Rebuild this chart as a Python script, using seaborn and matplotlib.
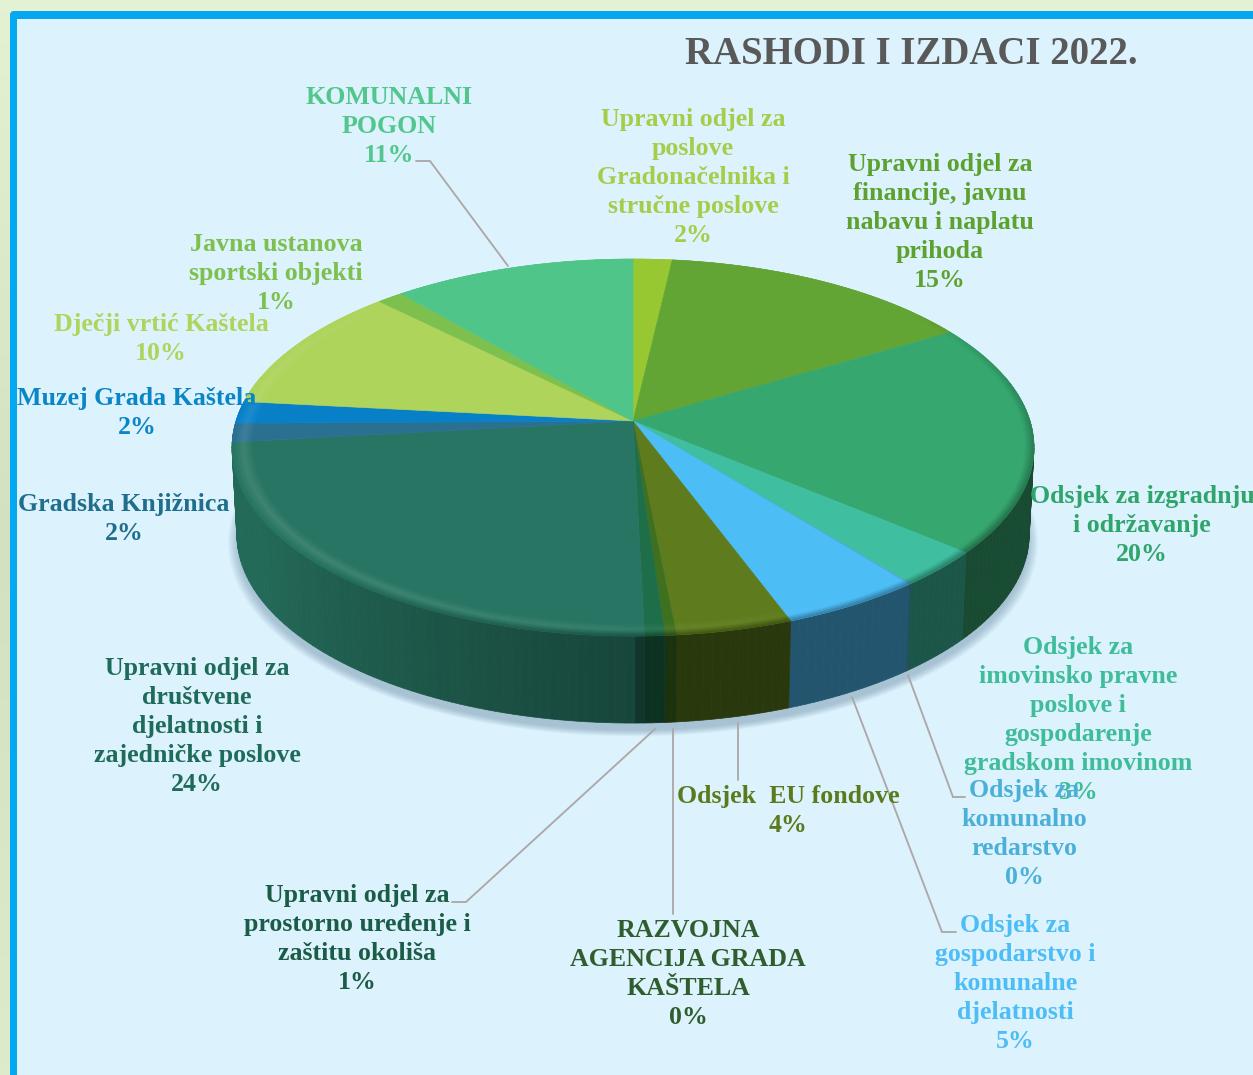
import numpy as np
import seaborn as sns
import matplotlib.pyplot as plt
from matplotlib.collections import PolyCollection
from matplotlib.patches import FancyBboxPatch, Polygon, Rectangle

# Data (clockwise from the top)
names = [
    "Upravni odjel za\nposlove\nGradonačelnika i\nstručne poslove",
    "Upravni odjel za\nfinancije, javnu\nnabavu i naplatu\nprihoda",
    "Odsjek za izgradnju\ni održavanje",
    "Odsjek za\nimovinsko pravne\nposlove i\ngospodarenje\ngradskom imovinom",
    "Odsjek za\nkomunalno\nredarstvo",
    "Odsjek za\ngospodarstvo i\nkomunalne\ndjelatnosti",
    "Odsjek  EU fondove",
    "RAZVOJNA\nAGENCIJA GRADA\nKAŠTELA",
    "Upravni odjel za\nprostorno uređenje i\nzaštitu okoliša",
    "Upravni odjel za\ndruštvene\ndjelatnosti i\nzajedničke poslove",
    "Gradska Knjižnica",
    "Muzej Grada Kaštela",
    "Dječji vrtić Kaštela",
    "Javna ustanova\nsportski objekti",
    "KOMUNALNI\nPOGON",
]
values = [1.8, 14.6, 19.8, 3.1, 0.1, 5.0, 4.1, 0.4, 0.7, 23.6, 1.6, 1.9, 10.9, 1.2, 11.2]
percent_labels = [2, 15, 20, 3, 0, 5, 4, 0, 1, 24, 2, 2, 10, 1, 11]

slice_colors = ["#97c832", "#63a534", "#36a76f", "#3fbfa0", "#4ab0d6", "#4dbdf6", "#5e7c1d", "#3f7020",
                "#1f6e4a", "#277562", "#2a7090", "#0880c8", "#aed45c", "#7dc04d", "#50c58a"]
label_colors = ["#a5cd4a", "#5da22f", "#2fa56c", "#3fbd9a", "#4bb0d8", "#4dbdf6", "#5a7a1c", "#2f5d2e",
                "#1b5c46", "#1f6b5a", "#1f6f8c", "#0a86c6", "#aed45c", "#7dc04d", "#52c78d"]

# label centre x / first baseline y, in pixels
label_x = [693, 940, 1142, 1078, 1024, 1015, 788, 688, 357, 197, 124, 137, 161, 276, 389]
label_y = [126, 171, 503, 654, 797, 932, 803, 937, 902, 675, 511, 405, 331, 251, 104]

# leader lines
leaders = [
    ([416, 430, 508], [161, 161, 266]),
    ([908, 953, 965], [675, 797, 797]),
    ([852, 942, 956], [697, 932, 932]),
    ([738, 738], [723, 780]),
    ([673, 673], [729, 914]),
    ([655, 466, 452], [729, 902, 902]),
]

sns.set_theme(style="white")
plt.rcParams["font.family"] = ["Liberation Serif", "DejaVu Serif"]
palette = sns.color_palette(slice_colors)

W, H = 1253, 1075
fig, ax = plt.subplots(figsize=(W / 100, H / 100), dpi=100)
ax.set_position([0, 0, 1, 1])

# pie gives the angles, the squashed 3D look is done with a projection
wedges, _ = ax.pie(values, colors=palette, startangle=90, counterclock=False)
ax.set_aspect("auto")
ax.set_xlim(0, W)
ax.set_ylim(H, 0)
ax.axis("off")

CX, CY = 633, 421
A, B, K = 184.8, 397, 0.1407
DEPTH = 87


def project(theta, r=1.0, drop=0.0, shrink=1.0):
    t = np.radians(theta)
    x, y = r * np.cos(t), r * np.sin(t)
    w = 1 + K * y
    return np.column_stack([CX + shrink * B * x / w, CY - A * y / w + drop])


def blend(c, other, f):
    return tuple((1 - f) * a + f * b for a, b in zip(c, other))


def side_shade(phi):
    if phi <= 180:
        return 0.45
    return 0.6 + 0.3 * min((phi - 180) / 60, 1)


# background
grad = np.linspace(0, 1, 100).reshape(-1, 1)
ax.imshow(grad, extent=(0, W, H, 0), cmap=sns.blend_palette(["#e4f2d4", "#d2e1c2", "#dcebcb"], as_cmap=True),
          aspect="auto", zorder=0)
ax.set_xlim(0, W)
ax.set_ylim(H, 0)
ax.add_patch(FancyBboxPatch((12, 13), W + 40, H + 40, boxstyle="round,pad=2,rounding_size=4",
                            fc="#05a8f0", ec="none", zorder=1))
ax.add_patch(Rectangle((17, 19), W, H, fc="#dcf2fd", ec="none", zorder=2))

# soft shadow under the drum
all_theta = np.linspace(0, 360, 361)
for s in np.linspace(1.025, 1.0, 12):
    ax.add_patch(Polygon(project(all_theta, r=s, drop=DEPTH + 7, shrink=0.985), closed=True, fc="#4f7690",
                         ec="none", alpha=0.035, zorder=3))

# side wall
strips, strip_cols, strip_y = [], [], []
for w, col in zip(wedges, palette):
    n = max(2, int((w.theta2 - w.theta1) / 1.2) + 2)
    th = np.linspace(w.theta1, w.theta2, n)
    for t1, t2 in zip(th[:-1], th[1:]):
        tm = (t1 + t2) / 2
        if np.sin(np.radians(tm)) > 0.25:
            continue
        phi = (90 - tm) % 360
        top = np.vstack([project(t1), project(t2)])
        bot = np.vstack([project(t2, drop=DEPTH, shrink=0.988), project(t1, drop=DEPTH, shrink=0.988)])
        strips.append(np.vstack([top, bot]))
        strip_cols.append(blend(col, (0, 0, 0), 1 - side_shade(phi)))
        strip_y.append(top[:, 1].mean())
order = np.argsort(strip_y)
ax.add_collection(PolyCollection([strips[i] for i in order], facecolors=[strip_cols[i] for i in order],
                                 edgecolors=[strip_cols[i] for i in order], linewidths=0.5, zorder=4))

# top face
for w, col in zip(wedges, palette):
    th = np.linspace(w.theta1, w.theta2, max(3, int(w.theta2 - w.theta1) * 2))
    pts = np.vstack([[CX, CY], project(th)])
    ax.add_patch(Polygon(pts, closed=True, fc=col, ec=col, lw=0.4, zorder=5))
    w.set_visible(False)

# bevel along the rim
rings = np.linspace(0.94, 1.0, 15)
bevel, bevel_cols = [], []
for w, col in zip(wedges, palette):
    th = np.linspace(w.theta1, w.theta2, max(2, int((w.theta2 - w.theta1) / 1.5) + 2))
    for t1, t2 in zip(th[:-1], th[1:]):
        phi = np.radians((90 - (t1 + t2) / 2) % 360)
        hi = 0.12 * max(0, np.cos(phi - np.radians(235)))
        dark = np.clip(0.5 * np.sin(phi) - 0.6 * np.cos(phi), 0, 1)
        for r1, r2 in zip(rings[:-1], rings[1:]):
            rm = (r1 + r2) / 2
            bump = max(0, 1 - abs(rm - 0.972) / 0.025)
            ramp = np.clip((rm - 0.978) / 0.022, 0, 1)
            c = blend(col, (1, 1, 1), hi * bump)
            c = blend(c, (0, 0, 0), 0.45 * dark * ramp)
            bevel.append(np.vstack([project(t1, r1), project(t2, r1), project(t2, r2), project(t1, r2)]))
            bevel_cols.append(c)
ax.add_collection(PolyCollection(bevel, facecolors=bevel_cols, edgecolors=bevel_cols, linewidths=0.3, zorder=6))

# leader lines
for xs, ys in leaders:
    ax.plot(xs, ys, color="#aca8a8", lw=1.35, zorder=7, solid_joinstyle="miter")

# labels, one text per line so the 29 px rhythm stays exact
for name, pct, x, y, col in zip(names, percent_labels, label_x, label_y, label_colors):
    for i, line in enumerate(name.split("\n") + [f"{pct}%"]):
        ax.text(x, y + i * 29, line, color=col, fontsize=18.6, fontweight="bold", ha="center", va="baseline", zorder=8)

ax.text(911, 64, "RASHODI I IZDACI 2022.", color="#595959", fontsize=28, fontweight="bold", ha="center",
        va="baseline", zorder=8)

plt.savefig("out.png", dpi=100)
